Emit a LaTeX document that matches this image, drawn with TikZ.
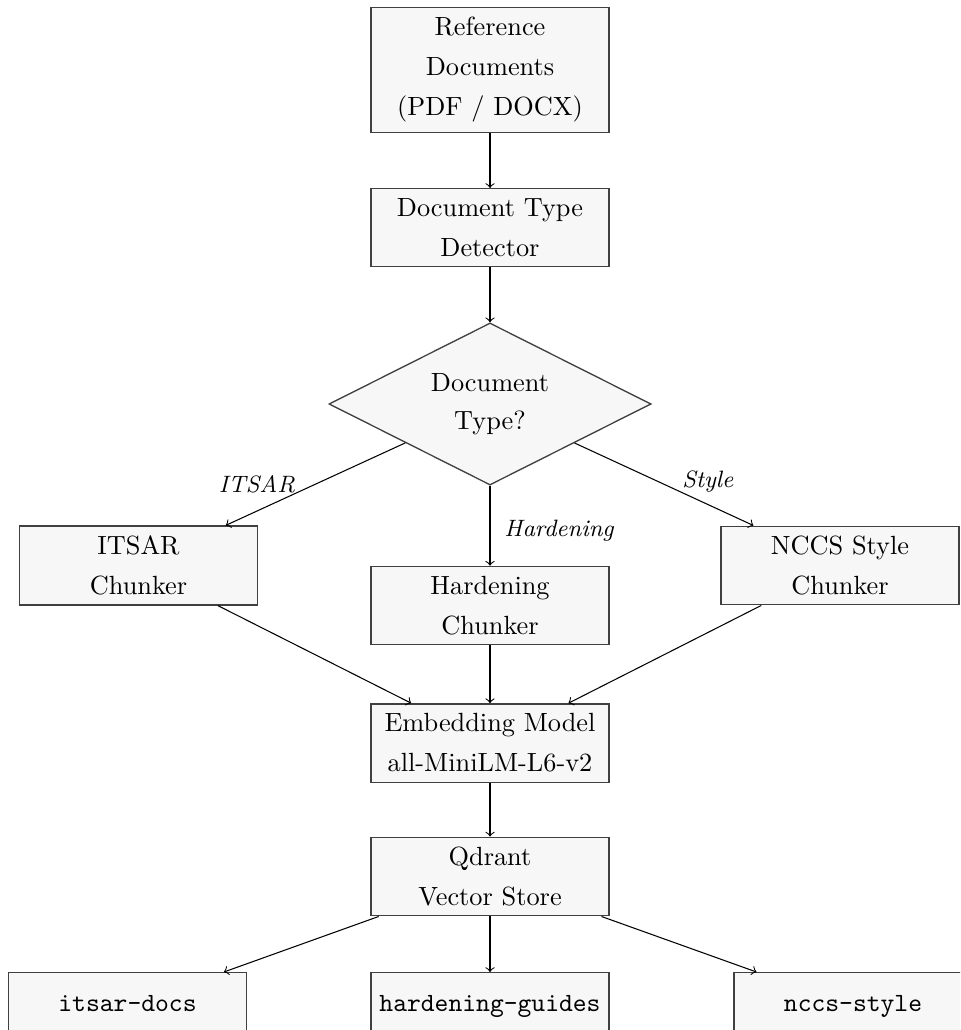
\documentclass[tikz,border=0pt]{standalone}
\usetikzlibrary{shapes.geometric}
\begin{document}
\begin{tikzpicture}[x=0.38pt,y=-0.38pt,
  box/.style={draw=black!75, fill=black!3, line width=0.5pt, text width=83pt, align=center, inner sep=3.7pt, font=\fontsize{10}{15.2}\selectfont},
  dec/.style={diamond, aspect=2, draw=black!75, fill=black!3, line width=0.5pt, align=center, inner sep=0pt, minimum width=122.4pt, minimum height=61.6pt, font=\fontsize{10}{14.4}\selectfont},
  coll/.style={draw=black!75, fill=black!3, line width=0.5pt, minimum width=90.4pt, minimum height=25.8pt, inner xsep=2pt, inner ysep=3.7pt, font=\ttfamily, text height=6.11pt, text depth=2.22pt, anchor=north},
  arr/.style={->, black, line width=0.4pt},
  lbl/.style={font=\small\itshape, inner sep=0pt}]
\useasboundingbox (0,0) rectangle (960,1030);
\clip (0,0) rectangle (960,1030);
\node[box] (ref) at (490,70) {Reference\\Documents\\(PDF / DOCX)};
\node[box] (det) at (490,227.5) {Document Type\\Detector};
\node[dec] (dia) at (490,404) {Document\\Type?};
\node[box] (itc) at (138.5,565.5) {ITSAR\\Chunker};
\node[box] (hdc) at (490,605.5) {Hardening\\Chunker};
\node[box] (ncc) at (840,565.5) {NCCS Style\\Chunker};
\node[box] (emb) at (490,743) {Embedding Model\\all-MiniLM-L6-v2};
\node[box] (qd) at (490,876.5) {Qdrant\\Vector Store};
\node[coll] (c1) at (127.5,972) {itsar-docs};
\node[coll] (c2) at (490,972) {hardening-guides};
\node[coll] (c3) at (853,972) {nccs-style};
\draw[arr] (ref) -- (det);
\draw[arr] (det) -- (dia);
\draw[arr] (dia) -- node[lbl, pos=0.61, anchor=south east] {ITSAR} (itc);
\draw[arr] (dia) -- node[lbl, pos=0.634, anchor=base west, xshift=5.3pt] {Hardening} (hdc);
\draw[arr] (dia) -- node[lbl, pos=0.6, anchor=south west] {Style} (ncc);
\draw[arr] (itc) -- (emb);
\draw[arr] (hdc) -- (emb);
\draw[arr] (ncc) -- (emb);
\draw[arr] (emb) -- (qd);
\draw[arr] (qd) -- (c1);
\draw[arr] (qd) -- (c2);
\draw[arr] (qd) -- (c3);
\end{tikzpicture}
\end{document}
